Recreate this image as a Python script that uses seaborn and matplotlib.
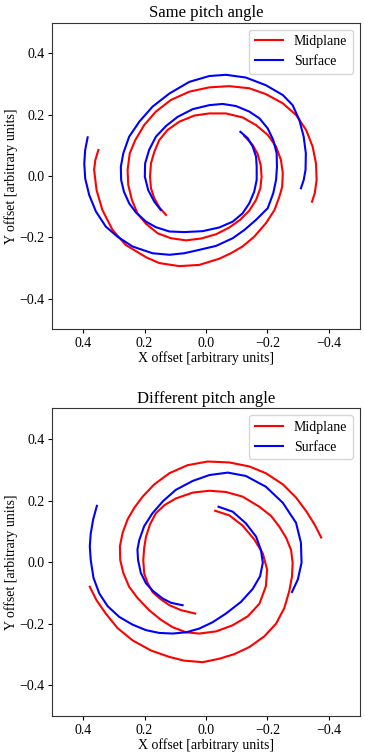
import numpy as np
import pandas as pd
import seaborn as sns
import matplotlib.pyplot as plt
from matplotlib.lines import Line2D

# ---- spiral arm traces (data units) ----
# top panel: same pitch angle
same_mid_a_x = [0.130, 0.152, 0.168, 0.179, 0.182, 0.179, 0.168, 0.152, 0.125, 0.087, 0.038, -0.011, -0.065,
                -0.119, -0.163, -0.201, -0.228, -0.244, -0.250, -0.248, -0.239, -0.223, -0.195, -0.157, -0.119,
                -0.081, -0.043, 0.022, 0.087, 0.152, 0.195, 0.261, 0.304, 0.337, 0.356, 0.364, 0.360, 0.350]
same_mid_a_y = [-0.127, -0.102, -0.073, -0.040, -0.002, 0.041, 0.079, 0.117, 0.150, 0.177, 0.197, 0.204, 0.204,
                0.191, 0.166, 0.134, 0.096, 0.052, 0.009, -0.035, -0.067, -0.111, -0.154, -0.198, -0.230,
                -0.252, -0.270, -0.290, -0.294, -0.284, -0.265, -0.225, -0.176, -0.111, -0.046, 0.020, 0.052, 0.085]
same_mid_b_x = [-0.125, -0.152, -0.168, -0.178, -0.181, -0.177, -0.163, -0.141, -0.111, -0.076, -0.033, 0.016,
                0.065, 0.114, 0.157, 0.195, 0.223, 0.241, 0.253, 0.255, 0.248, 0.230, 0.201, 0.163, 0.114, 0.054,
                -0.011, -0.076, -0.141, -0.195, -0.250, -0.293, -0.326, -0.347, -0.358, -0.360, -0.354, -0.345]
same_mid_b_y = [0.130, 0.101, 0.072, 0.036, -0.002, -0.040, -0.078, -0.113, -0.143, -0.168, -0.190, -0.204,
                -0.210, -0.203, -0.187, -0.156, -0.122, -0.078, -0.029, 0.020, 0.074, 0.117, 0.166, 0.210, 0.248,
                0.275, 0.289, 0.293, 0.286, 0.267, 0.237, 0.199, 0.150, 0.096, 0.041, -0.013, -0.056, -0.084]
same_srf_a_x = [0.147, 0.168, 0.188, 0.199, 0.198, 0.185, 0.163, 0.130, 0.092, 0.043, -0.011, -0.054, -0.098,
                -0.141, -0.174, -0.201, -0.219, -0.230, -0.231, -0.228, -0.219, -0.201, -0.163, -0.125, -0.087,
                -0.033, 0.022, 0.071, 0.119, 0.174, 0.239, 0.288, 0.326, 0.358, 0.380, 0.393, 0.396, 0.393, 0.385]
same_srf_a_y = [-0.111, -0.084, -0.046, -0.002, 0.041, 0.085, 0.128, 0.163, 0.193, 0.218, 0.231, 0.235, 0.228,
                0.210, 0.188, 0.155, 0.117, 0.074, 0.030, -0.013, -0.056, -0.105, -0.143, -0.176, -0.203,
                -0.228, -0.241, -0.252, -0.257, -0.252, -0.230, -0.198, -0.165, -0.116, -0.062, -0.008, 0.041, 0.085, 0.126]
same_srf_b_x = [-0.112, -0.136, -0.152, -0.163, -0.165, -0.165, -0.157, -0.141, -0.119, -0.087, -0.043, 0.011,
                0.071, 0.119, 0.163, 0.195, 0.228, 0.250, 0.267, 0.276, 0.277, 0.269, 0.250, 0.217, 0.174, 0.119,
                0.054, -0.011, -0.065, -0.130, -0.195, -0.250, -0.282, -0.304, -0.318, -0.325, -0.324, -0.318, -0.309]
same_srf_b_y = [0.144, 0.123, 0.096, 0.063, 0.030, -0.013, -0.051, -0.089, -0.122, -0.149, -0.168, -0.180,
                -0.183, -0.181, -0.167, -0.149, -0.119, -0.089, -0.051, -0.013, 0.030, 0.074, 0.128, 0.177, 0.226,
                0.269, 0.307, 0.326, 0.330, 0.321, 0.296, 0.264, 0.231, 0.182, 0.128, 0.074, 0.020, -0.013, -0.040]

# bottom panel: different pitch angle
diff_mid_a_x = [0.035, 0.081, 0.119, 0.149, 0.174, 0.190, 0.201, 0.204, 0.201, 0.195, 0.182, 0.163, 0.134,
                0.098, 0.043, -0.011, -0.065, -0.119, -0.174, -0.212, -0.239, -0.261, -0.277, -0.282, -0.280,
                -0.271, -0.255, -0.228, -0.190, -0.141, -0.092, -0.043, 0.011, 0.071, 0.119, 0.179, 0.239,
                0.288, 0.326, 0.356, 0.378]
diff_mid_a_y = [-0.167, -0.156, -0.140, -0.119, -0.097, -0.067, -0.037, 0.007, 0.047, 0.083, 0.123, 0.159,
                0.186, 0.207, 0.226, 0.232, 0.228, 0.213, 0.180, 0.150, 0.115, 0.079, 0.039, -0.002, -0.046,
                -0.094, -0.149, -0.200, -0.241, -0.276, -0.299, -0.314, -0.325, -0.320, -0.308, -0.287, -0.254,
                -0.214, -0.167, -0.124, -0.080]
diff_mid_b_x = [-0.030, -0.076, -0.119, -0.157, -0.185, -0.199, -0.195, -0.174, -0.136, -0.087, -0.033, 0.022,
                0.065, 0.109, 0.147, 0.185, 0.223, 0.250, 0.269, 0.279, 0.280, 0.271, 0.255, 0.233, 0.206, 0.168,
                0.119, 0.060, -0.005, -0.076, -0.141, -0.195, -0.250, -0.293, -0.326, -0.353, -0.375]
diff_mid_b_y = [0.167, 0.152, 0.119, 0.074, 0.028, -0.024, -0.078, -0.135, -0.176, -0.205, -0.225, -0.232,
                -0.228, -0.211, -0.187, -0.156, -0.116, -0.080, -0.035, 0.007, 0.052, 0.096, 0.139, 0.177, 0.213,
                0.253, 0.289, 0.315, 0.327, 0.324, 0.311, 0.289, 0.253, 0.210, 0.166, 0.123, 0.080]
diff_srf_a_x = [-0.041, -0.087, -0.130, -0.163, -0.179, -0.185, -0.176, -0.152, -0.114, -0.065, -0.022, 0.022,
                0.065, 0.109, 0.152, 0.195, 0.239, 0.282, 0.320, 0.347, 0.366, 0.375, 0.378, 0.375, 0.367, 0.355]
diff_srf_a_y = [0.180, 0.164, 0.126, 0.083, 0.039, -0.002, -0.046, -0.087, -0.129, -0.167, -0.195, -0.216,
                -0.228, -0.232, -0.230, -0.221, -0.203, -0.178, -0.143, -0.102, -0.051, 0.007, 0.052, 0.093, 0.139, 0.183]
diff_srf_b_x = [0.076, 0.114, 0.141, 0.172, 0.195, 0.212, 0.221, 0.223, 0.217, 0.201, 0.174, 0.139, 0.098,
                0.043, -0.011, -0.071, -0.130, -0.195, -0.250, -0.293, -0.309, -0.311, -0.299, -0.280]
diff_srf_b_y = [-0.140, -0.132, -0.118, -0.094, -0.069, -0.035, 0.007, 0.041, 0.072, 0.117, 0.159, 0.199, 0.235,
                0.264, 0.283, 0.291, 0.280, 0.245, 0.193, 0.128, 0.063, -0.002, -0.056, -0.097]

layers = ["Midplane", "Surface"]
colors = {"Midplane": "red", "Surface": "blue"}
titles = ["Same pitch angle", "Different pitch angle"]
ticks = [-0.4, -0.2, 0.0, 0.2, 0.4]

panels = [
    [("Midplane", "a", same_mid_a_x, same_mid_a_y), ("Midplane", "b", same_mid_b_x, same_mid_b_y),
     ("Surface", "a", same_srf_a_x, same_srf_a_y), ("Surface", "b", same_srf_b_x, same_srf_b_y)],
    [("Midplane", "a", diff_mid_a_x, diff_mid_a_y), ("Midplane", "b", diff_mid_b_x, diff_mid_b_y),
     ("Surface", "a", diff_srf_a_x, diff_srf_a_y), ("Surface", "b", diff_srf_b_x, diff_srf_b_y)],
]

plt.rcParams["font.family"] = ["Liberation Serif", "DejaVu Serif"]
plt.rcParams["font.size"] = 10
plt.rcParams["axes.edgecolor"] = "#333333"

fig = plt.figure(figsize=(3.65, 7.53), dpi=100)
ax_pos = [[0.1433, 0.5627, 0.842, 0.4072], [0.1433, 0.0491, 0.842, 0.4087]]

for pos, arms, title in zip(ax_pos, panels, titles):
    ax = fig.add_axes(pos)
    frames = []
    for layer, arm, xs, ys in arms:
        frames.append(pd.DataFrame({"x": xs, "y": ys, "layer": layer,
                                    "arm": layer + arm, "step": np.arange(len(xs))}))
    df = pd.concat(frames, ignore_index=True)
    sns.lineplot(data=df, x="x", y="y", hue="layer", units="arm", estimator=None,
                 sort=False, palette=colors, linewidth=1.5, legend=False, ax=ax)
    ax.set_xlim(0.5, -0.5)
    ax.set_ylim(-0.5, 0.5)
    ax.set_xticks(ticks)
    ax.set_yticks(ticks)
    ax.tick_params(length=3, pad=2.5)
    ax.set_xlabel("X offset [arbitrary units]", labelpad=1)
    ax.set_ylabel("Y offset [arbitrary units]", labelpad=1)
    ax.set_title(title, fontsize=12, pad=4)
    handles = [Line2D([], [], color=colors[l], linewidth=1.5) for l in layers]
    ax.legend(handles, layers, loc="upper right")

fig.savefig("out.png", dpi=100)
